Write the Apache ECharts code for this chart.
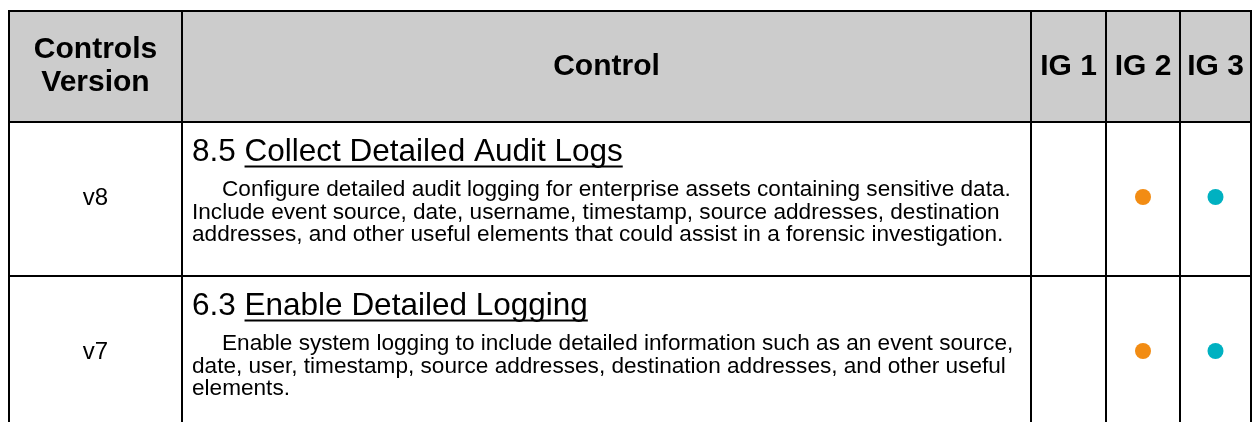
<!DOCTYPE html>
<html>
<head>
<meta charset="utf-8">
<script src="https://cdn.jsdelivr.net/npm/echarts@6/dist/echarts.min.js"></script>
<style>
html,body{margin:0;padding:0;background:#fff;}
#chart{width:1253px;height:422px;}
</style>
</head>
<body>
<div id="chart"></div>
<script>
// ---- data ----
const headers = ['Controls\nVersion', 'Control', 'IG 1', 'IG 2', 'IG 3'];
const versions = ['v8', 'v7'];
const controlIds = ['8.5', '6.3'];
const controlTitles = ['Collect Detailed Audit Logs', 'Enable Detailed Logging'];
const descriptions = [
  ['Configure detailed audit logging for enterprise assets containing sensitive data.',
   'Include event source, date, username, timestamp, source addresses, destination',
   'addresses, and other useful elements that could assist in a forensic investigation.'],
  ['Enable system logging to include detailed information such as an event source,',
   'date, user, timestamp, source addresses, destination addresses, and other useful',
   'elements.']
];
const ig1 = [false, false];
const ig2 = [true, true];
const ig3 = [true, true];

// ---- layout ----
const L = {
  left: 9, top: 11, headerH: 111, rowH: 154, canvasH: 422,
  colEdges: [0, 173, 1022, 1097, 1171, 1242],
  border: 2,
  headerFill: '#cccccc',
  font: '"Liberation Sans", Arial, Helvetica, sans-serif',
  igColors: ['#4a7ebb', '#f28c13', '#00b1c1']
};
const tableW = L.colEdges[L.colEdges.length - 1];
const gridTop = L.top + L.headerH;
const gridH = L.canvasH - gridTop;

const measureCtx = document.createElement('canvas').getContext('2d');
function textW(str, font) { measureCtx.font = font; return measureCtx.measureText(str).width; }

const chart = echarts.init(document.getElementById('chart'), null, {renderer: 'canvas'});

// header graphic
const headerEls = [];
headerEls.push({type: 'rect', shape: {x: L.left, y: L.top, width: tableW, height: L.headerH},
  style: {fill: L.headerFill, stroke: '#000', lineWidth: L.border}, z: 1});
for (let i = 1; i < L.colEdges.length - 1; i++) {
  headerEls.push({type: 'line', shape: {x1: L.left + L.colEdges[i], y1: L.top, x2: L.left + L.colEdges[i], y2: L.top + L.headerH},
    style: {stroke: '#000', lineWidth: L.border}, z: 2});
}
headers.forEach((h, i) => {
  headerEls.push({type: 'text', x: L.left + (L.colEdges[i] + L.colEdges[i + 1]) / 2, y: L.top + L.headerH / 2,
    style: {text: h, fill: '#000', font: 'bold 30px ' + L.font, align: 'center', verticalAlign: 'middle', lineHeight: 33}, z: 3});
});

// scatter dots from IG flags
const igFlags = [ig1, ig2, ig3];
const dotSeries = igFlags.map((flags, k) => ({
  type: 'scatter',
  symbol: 'circle',
  symbolSize: 16,
  symbolOffset: [0, -2],
  itemStyle: {color: L.igColors[k], opacity: 1},
  z: 5,
  data: flags.map((f, r) => f ? [(L.colEdges[k + 2] + L.colEdges[k + 3]) / 2, r] : null).filter(Boolean)
}));

const rowSeries = {
  type: 'custom',
  z: 3,
  data: versions.map((v, r) => [0, r]),
  renderItem: function (params, api) {
    const r = api.value(1);
    const c = api.coord([0, r]);
    const band = api.size([0, 1])[1];
    const top = c[1] - band / 2;
    const x0 = c[0];
    const children = [];
    children.push({type: 'line', shape: {x1: x0, y1: top, x2: x0 + tableW, y2: top}, style: {stroke: '#000', lineWidth: L.border}});
    L.colEdges.forEach(e => {
      children.push({type: 'line', shape: {x1: x0 + e, y1: top, x2: x0 + e, y2: top + band}, style: {stroke: '#000', lineWidth: L.border}});
    });
    // version
    children.push({type: 'text', x: x0 + (L.colEdges[0] + L.colEdges[1]) / 2, y: c[1] - 1,
      style: {text: versions[r], font: '24px ' + L.font, fill: '#000', align: 'center', verticalAlign: 'middle'}});
    // title
    const tx = x0 + L.colEdges[1] + 10;
    const ty = top + 30;
    const titleFont = '31.5px ' + L.font;
    const prefix = controlIds[r] + ' ';
    const pw = textW(prefix, titleFont);
    const tw = textW(controlTitles[r], titleFont);
    children.push({type: 'text', x: tx, y: ty, style: {text: prefix, font: titleFont, fill: '#000', align: 'left', verticalAlign: 'middle'}});
    children.push({type: 'text', x: tx + pw, y: ty, style: {text: controlTitles[r], font: titleFont, fill: '#000', align: 'left', verticalAlign: 'middle'}});
    children.push({type: 'line', shape: {x1: tx + pw, y1: ty + 14.5, x2: tx + pw + tw, y2: ty + 14.5}, style: {stroke: '#000', lineWidth: 2}});
    // description
    const dFont = '22.6px ' + L.font;
    descriptions[r].forEach((line, li) => {
      children.push({type: 'text', x: tx + (li === 0 ? 30 : 0), y: ty + 38 + li * 22.3,
        style: {text: line, font: dFont, fill: '#000', align: 'left', verticalAlign: 'middle'}});
    });
    return {type: 'group', children: children};
  }
};

chart.setOption({
  animation: false,
  grid: {left: L.left, top: gridTop, width: tableW, height: gridH},
  xAxis: {type: 'value', min: 0, max: tableW, show: false},
  yAxis: {type: 'value', min: -0.5, max: -0.5 + gridH / L.rowH, inverse: true, show: false},
  graphic: headerEls,
  series: [rowSeries].concat(dotSeries)
});
</script>
</body>
</html>
